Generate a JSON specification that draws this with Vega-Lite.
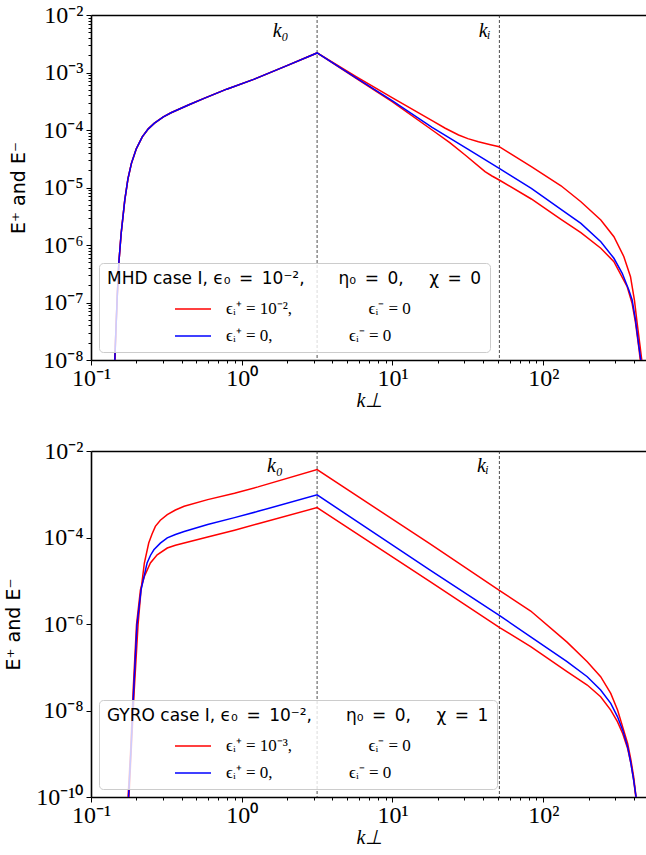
{
  "$schema": "https://vega.github.io/schema/vega-lite/v6.json",
  "background": "white",
  "padding": {"left": 4, "top": 3, "right": 0, "bottom": 0},
  "columns": 1,
  "spacing": 29,
  "datasets": {
    "rules": [{"k": 3.162}, {"k": 51.2}],
    "labTop": [{"k": 1.81, "E": 0.0053, "t": "k₀"}, {"k": 40.9, "E": 0.0053, "t": "kᵢ"}],
    "labBot": [{"k": 1.66, "E": 0.0044, "t": "k₀"}, {"k": 39.8, "E": 0.0044, "t": "kᵢ"}],
    "top": [
      {"c":"r","p":"+","k":0.1439,"E":1e-8},{"c":"r","p":"+","k":0.1462,"E":3.162e-8},{"c":"r","p":"+","k":0.1493,"E":1.259e-7},{"c":"r","p":"+","k":0.1531,"E":5.012e-7},{"c":"r","p":"+","k":0.1585,"E":1.585e-6},{"c":"r","p":"+","k":0.1675,"E":6.026e-6},{"c":"r","p":"+","k":0.1758,"E":1.413e-5},{"c":"r","p":"+","k":0.1854,"E":2.63e-5},{"c":"r","p":"+","k":0.1995,"E":4.677e-5},{"c":"r","p":"+","k":0.2188,"E":7.586e-5},{"c":"r","p":"+","k":0.2399,"E":1.047e-4},{"c":"r","p":"+","k":0.2636,"E":1.318e-4},{"c":"r","p":"+","k":0.302,"E":1.698e-4},{"c":"r","p":"+","k":0.3396,"E":1.995e-4},{"c":"r","p":"+","k":0.4467,"E":2.754e-4},{"c":"r","p":"+","k":0.5623,"E":3.548e-4},{"c":"r","p":"+","k":0.7943,"E":5.129e-4},{"c":"r","p":"+","k":1.2,"E":7.586e-4},{"c":"r","p":"+","k":1.995,"E":1.318e-3},{"c":"r","p":"+","k":3.162,"E":2.188e-3},
      {"c":"r","p":"+","k":5.741,"E":8.511e-4},{"c":"r","p":"+","k":10,"E":3.631e-4},{"c":"r","p":"+","k":18.32,"E":1.452e-4},{"c":"r","p":"+","k":22.39,"E":1.072e-4},{"c":"r","p":"+","k":27.45,"E":8.185e-5},{"c":"r","p":"+","k":31.62,"E":7.079e-5},{"c":"r","p":"+","k":37.15,"E":6.266e-5},{"c":"r","p":"+","k":44.67,"E":5.559e-5},{"c":"r","p":"+","k":51.05,"E":5.129e-5},{"c":"r","p":"+","k":83.37,"E":2.301e-5},{"c":"r","p":"+","k":131.2,"E":1.072e-5},{"c":"r","p":"+","k":177.8,"E":5.662e-6},{"c":"r","p":"+","k":241.0,"E":2.723e-6},{"c":"r","p":"+","k":294.4,"E":1.393e-6},{"c":"r","p":"+","k":342.8,"E":6.266e-7},{"c":"r","p":"+","k":379.3,"E":2.812e-7},{"c":"r","p":"+","k":402.7,"E":1.104e-7},{"c":"r","p":"+","k":419.8,"E":4.365e-8},{"c":"r","p":"+","k":438.5,"E":1.778e-8},{"c":"r","p":"+","k":451.9,"E":9.333e-9},
      {"c":"r","p":"-","k":0.1439,"E":1e-8},{"c":"r","p":"-","k":0.1462,"E":3.162e-8},{"c":"r","p":"-","k":0.1493,"E":1.259e-7},{"c":"r","p":"-","k":0.1531,"E":5.012e-7},{"c":"r","p":"-","k":0.1585,"E":1.585e-6},{"c":"r","p":"-","k":0.1675,"E":6.026e-6},{"c":"r","p":"-","k":0.1758,"E":1.413e-5},{"c":"r","p":"-","k":0.1854,"E":2.63e-5},{"c":"r","p":"-","k":0.1995,"E":4.677e-5},{"c":"r","p":"-","k":0.2188,"E":7.586e-5},{"c":"r","p":"-","k":0.2399,"E":1.047e-4},{"c":"r","p":"-","k":0.2636,"E":1.318e-4},{"c":"r","p":"-","k":0.302,"E":1.698e-4},{"c":"r","p":"-","k":0.3396,"E":1.995e-4},{"c":"r","p":"-","k":0.4467,"E":2.754e-4},{"c":"r","p":"-","k":0.5623,"E":3.548e-4},{"c":"r","p":"-","k":0.7943,"E":5.129e-4},{"c":"r","p":"-","k":1.2,"E":7.586e-4},{"c":"r","p":"-","k":1.995,"E":1.318e-3},{"c":"r","p":"-","k":3.162,"E":2.188e-3},
      {"c":"r","p":"-","k":5.741,"E":7.943e-4},{"c":"r","p":"-","k":10,"E":3.09e-4},{"c":"r","p":"-","k":18.32,"E":1.0e-4},{"c":"r","p":"-","k":23.99,"E":6.026e-5},{"c":"r","p":"-","k":30.34,"E":3.673e-5},{"c":"r","p":"-","k":41.11,"E":1.884e-5},{"c":"r","p":"-","k":45.71,"E":1.585e-5},{"c":"r","p":"-","k":51.05,"E":1.349e-5},{"c":"r","p":"-","k":83.37,"E":6.31e-6},{"c":"r","p":"-","k":131.2,"E":2.799e-6},{"c":"r","p":"-","k":177.8,"E":1.637e-6},{"c":"r","p":"-","k":241.0,"E":8.77e-7},{"c":"r","p":"-","k":294.4,"E":5.129e-7},{"c":"r","p":"-","k":360.6,"E":1.884e-7},{"c":"r","p":"-","k":389.0,"E":9.55e-8},{"c":"r","p":"-","k":409.3,"E":4.467e-8},{"c":"r","p":"-","k":430.5,"E":1.66e-8},{"c":"r","p":"-","k":441.6,"E":9.333e-9},
      {"c":"b","p":"+","k":0.1439,"E":1e-8},{"c":"b","p":"+","k":0.1462,"E":3.162e-8},{"c":"b","p":"+","k":0.1493,"E":1.259e-7},{"c":"b","p":"+","k":0.1531,"E":5.012e-7},{"c":"b","p":"+","k":0.1585,"E":1.585e-6},{"c":"b","p":"+","k":0.1675,"E":6.026e-6},{"c":"b","p":"+","k":0.1758,"E":1.413e-5},{"c":"b","p":"+","k":0.1854,"E":2.63e-5},{"c":"b","p":"+","k":0.1995,"E":4.677e-5},{"c":"b","p":"+","k":0.2188,"E":7.586e-5},{"c":"b","p":"+","k":0.2399,"E":1.047e-4},{"c":"b","p":"+","k":0.2636,"E":1.318e-4},{"c":"b","p":"+","k":0.302,"E":1.698e-4},{"c":"b","p":"+","k":0.3396,"E":1.995e-4},{"c":"b","p":"+","k":0.4467,"E":2.754e-4},{"c":"b","p":"+","k":0.5623,"E":3.548e-4},{"c":"b","p":"+","k":0.7943,"E":5.129e-4},{"c":"b","p":"+","k":1.2,"E":7.586e-4},{"c":"b","p":"+","k":1.995,"E":1.318e-3},{"c":"b","p":"+","k":3.162,"E":2.188e-3},
      {"c":"b","p":"+","k":5.741,"E":8.091e-4},{"c":"b","p":"+","k":10,"E":3.214e-4},{"c":"b","p":"+","k":18.32,"E":1.114e-4},{"c":"b","p":"+","k":31.62,"E":4.645e-5},{"c":"b","p":"+","k":51.05,"E":2.153e-5},{"c":"b","p":"+","k":83.37,"E":9.683e-6},{"c":"b","p":"+","k":131.2,"E":4.178e-6},{"c":"b","p":"+","k":177.8,"E":2.382e-6},{"c":"b","p":"+","k":241.0,"E":1.14e-6},{"c":"b","p":"+","k":294.4,"E":5.875e-7},{"c":"b","p":"+","k":334.2,"E":3.221e-7},{"c":"b","p":"+","k":369.8,"E":1.648e-7},{"c":"b","p":"+","k":389.0,"E":1.104e-7},{"c":"b","p":"+","k":409.3,"E":5.012e-8},{"c":"b","p":"+","k":430.5,"E":1.778e-8},{"c":"b","p":"+","k":445.7,"E":9.333e-9}
    ],
    "bot": [
      {"c":"r","p":"+","k":0.1786,"E":1e-10},{"c":"r","p":"+","k":0.1849,"E":1.202e-9},{"c":"r","p":"+","k":0.1936,"E":2.972e-8},{"c":"r","p":"+","k":0.2051,"E":9.55e-7},{"c":"r","p":"+","k":0.2148,"E":6.166e-6},{"c":"r","p":"+","k":0.2259,"E":2.57e-5},{"c":"r","p":"+","k":0.2415,"E":7.464e-5},{"c":"r","p":"+","k":0.2541,"E":1.202e-4},{"c":"r","p":"+","k":0.2673,"E":1.807e-4},{"c":"r","p":"+","k":0.2884,"E":2.512e-4},{"c":"r","p":"+","k":0.3206,"E":3.373e-4},{"c":"r","p":"+","k":0.3631,"E":4.315e-4},{"c":"r","p":"+","k":0.415,"E":5.26e-4},{"c":"r","p":"+","k":0.5943,"E":7.516e-4},{"c":"r","p":"+","k":0.8954,"E":1.059e-3},{"c":"r","p":"+","k":1.282,"E":1.479e-3},{"c":"r","p":"+","k":3.162,"E":3.724e-3},{"c":"r","p":"+","k":17.66,"E":7.178e-5},{"c":"r","p":"+","k":51.4,"E":5.943e-6},{"c":"r","p":"+","k":82.6,"E":1.995e-6},{"c":"r","p":"+","k":143.9,"E":3.802e-7},{"c":"r","p":"+","k":195.9,"E":1.346e-7},{"c":"r","p":"+","k":240.4,"E":6.039e-8},{"c":"r","p":"+","k":280.5,"E":2.489e-8},{"c":"r","p":"+","k":311.2,"E":1.023e-8},{"c":"r","p":"+","k":336.5,"E":4.188e-9},{"c":"r","p":"+","k":363.1,"E":1.73e-9},{"c":"r","p":"+","k":381.9,"E":7.096e-10},{"c":"r","p":"+","k":398.1,"E":2.911e-10},{"c":"r","p":"+","k":413.0,"E":1e-10},
      {"c":"r","p":"-","k":0.1762,"E":1e-10},{"c":"r","p":"-","k":0.1832,"E":1.202e-9},{"c":"r","p":"-","k":0.1905,"E":2.972e-8},{"c":"r","p":"-","k":0.2004,"E":9.55e-7},{"c":"r","p":"-","k":0.2128,"E":6.166e-6},{"c":"r","p":"-","k":0.2259,"E":1.259e-5},{"c":"r","p":"-","k":0.2477,"E":2.57e-5},{"c":"r","p":"-","k":0.2748,"E":3.981e-5},{"c":"r","p":"-","k":0.3206,"E":5.715e-5},{"c":"r","p":"-","k":0.3631,"E":6.607e-5},{"c":"r","p":"-","k":0.415,"E":7.464e-5},{"c":"r","p":"-","k":0.5943,"E":1.023e-4},{"c":"r","p":"-","k":0.8954,"E":1.479e-4},{"c":"r","p":"-","k":1.282,"E":2.089e-4},{"c":"r","p":"-","k":3.162,"E":4.909e-4},{"c":"r","p":"-","k":17.66,"E":9.616e-6},{"c":"r","p":"-","k":51.4,"E":8.26e-7},{"c":"r","p":"-","k":82.6,"E":2.992e-7},{"c":"r","p":"-","k":143.9,"E":7.889e-8},{"c":"r","p":"-","k":195.9,"E":3.882e-8},{"c":"r","p":"-","k":240.4,"E":2.08e-8},{"c":"r","p":"-","k":280.5,"E":1.023e-8},{"c":"r","p":"-","k":311.2,"E":5.47e-9},{"c":"r","p":"-","k":336.5,"E":2.951e-9},{"c":"r","p":"-","k":363.1,"E":1.318e-9},{"c":"r","p":"-","k":381.9,"E":5.943e-10},{"c":"r","p":"-","k":398.1,"E":2.455e-10},{"c":"r","p":"-","k":411.1,"E":1e-10},
      {"c":"b","p":"+","k":0.1774,"E":1e-10},{"c":"b","p":"+","k":0.1841,"E":1.202e-9},{"c":"b","p":"+","k":0.1919,"E":2.972e-8},{"c":"b","p":"+","k":0.2018,"E":9.55e-7},{"c":"b","p":"+","k":0.2148,"E":6.166e-6},{"c":"b","p":"+","k":0.2355,"E":2.57e-5},{"c":"b","p":"+","k":0.2483,"E":3.89e-5},{"c":"b","p":"+","k":0.2612,"E":5.212e-5},{"c":"b","p":"+","k":0.2884,"E":7.413e-5},{"c":"b","p":"+","k":0.3206,"E":9.772e-5},{"c":"b","p":"+","k":0.3631,"E":1.175e-4},{"c":"b","p":"+","k":0.415,"E":1.38e-4},{"c":"b","p":"+","k":0.5943,"E":1.995e-4},{"c":"b","p":"+","k":0.8954,"E":2.884e-4},{"c":"b","p":"+","k":1.282,"E":4.027e-4},{"c":"b","p":"+","k":3.162,"E":9.661e-4},{"c":"b","p":"+","k":17.66,"E":1.795e-5},{"c":"b","p":"+","k":51.4,"E":1.567e-6},{"c":"b","p":"+","k":82.6,"E":5.012e-7},{"c":"b","p":"+","k":143.9,"E":1.346e-7},{"c":"b","p":"+","k":195.9,"E":6.039e-8},{"c":"b","p":"+","k":240.4,"E":2.972e-8},{"c":"b","p":"+","k":280.5,"E":1.459e-8},{"c":"b","p":"+","k":311.2,"E":7.145e-9},{"c":"b","p":"+","k":336.5,"E":3.516e-9},{"c":"b","p":"+","k":363.1,"E":1.442e-9},{"c":"b","p":"+","k":381.9,"E":5.943e-10},{"c":"b","p":"+","k":398.1,"E":2.455e-10},{"c":"b","p":"+","k":413.0,"E":1e-10}
    ]
  },
  "concat": [
    {
      "width": 556,
      "height": 345,
      "layer": [
        {
          "data": {"name": "rules"},
          "mark": {"type": "rule", "strokeDash": [3, 2], "strokeWidth": 0.8, "color": "#222222"},
          "encoding": {
            "x": {"field": "k", "type": "quantitative", "scale": {"type": "log", "domain": [0.1, 488], "nice": false},
                  "axis": {"orient": "bottom", "values": [0.2,0.3,0.4,0.5,0.6,0.7,0.8,0.9,2,3,4,5,6,7,8,9,20,30,40,50,60,70,80,90,200,300,400], "labels": false, "domain": false, "tickSize": 3, "title": null}}
          }
        },
        {
          "data": {"name": "labTop"},
          "mark": {"type": "text", "font": "Liberation Serif", "fontStyle": "italic", "fontSize": 20, "color": "black"},
          "encoding": {
            "x": {"field": "k", "type": "quantitative", "scale": {"type": "log", "domain": [0.1, 488], "nice": false},
                  "axis": {"orient": "top", "ticks": false, "labels": false, "domain": true, "title": null}},
            "y": {"field": "E", "type": "quantitative", "scale": {"type": "log", "domain": [1e-8, 1e-2], "nice": false},
                  "axis": {"orient": "left", "values": [2e-8,3e-8,4e-8,5e-8,6e-8,7e-8,8e-8,9e-8,2e-7,3e-7,4e-7,5e-7,6e-7,7e-7,8e-7,9e-7,2e-6,3e-6,4e-6,5e-6,6e-6,7e-6,8e-6,9e-6,2e-5,3e-5,4e-5,5e-5,6e-5,7e-5,8e-5,9e-5,2e-4,3e-4,4e-4,5e-4,6e-4,7e-4,8e-4,9e-4,2e-3,3e-3,4e-3,5e-3,6e-3,7e-3,8e-3,9e-3], "labels": false, "domain": false, "tickSize": 3, "title": null}},
            "text": {"field": "t"}
          }
        },
        {
          "data": {"name": "top"},
          "mark": {"type": "line", "strokeWidth": 1.5, "clip": true},
          "encoding": {
            "x": {"field": "k", "type": "quantitative", "scale": {"type": "log", "domain": [0.1, 488], "nice": false},
                  "axis": {"orient": "bottom", "values": [0.1, 1, 10, 100], "title": "k⊥"}},
            "y": {"field": "E", "type": "quantitative", "scale": {"type": "log", "domain": [1e-8, 1e-2], "nice": false},
                  "axis": {"orient": "left", "values": [1e-8,1e-7,1e-6,1e-5,1e-4,1e-3,1e-2], "title": "E⁺ and E⁻", "titlePadding": 14}},
            "color": {"field": "c", "type": "nominal", "scale": {"domain": ["r", "b"], "range": ["#ff0000", "#0000ff"]},
                      "legend": {"title": "MHD case I, ϵ₀\u2002=\u200210⁻²,\u2003\u2003η₀\u2002=\u20020,\u2003\u2002χ\u2002=\u20020",
                                 "labelExpr": "datum.value == 'r' ? 'ϵᵢ⁺ = 10⁻²,\u2003\u2003\u2003\u2003\u2002ϵᵢ⁻ = 0' : 'ϵᵢ⁺ = 0,\u2003\u2003\u2003\u2003\u2002ϵᵢ⁻ = 0'"}},
            "detail": {"field": "p"}
          }
        }
      ],
      "resolve": {"axis": {"x": "independent", "y": "independent"}}
    },
    {
      "width": 556,
      "height": 346,
      "layer": [
        {
          "data": {"name": "rules"},
          "mark": {"type": "rule", "strokeDash": [3, 2], "strokeWidth": 0.8, "color": "#222222"},
          "encoding": {
            "x": {"field": "k", "type": "quantitative", "scale": {"type": "log", "domain": [0.1, 488], "nice": false},
                  "axis": {"orient": "bottom", "values": [0.2,0.3,0.4,0.5,0.6,0.7,0.8,0.9,2,3,4,5,6,7,8,9,20,30,40,50,60,70,80,90,200,300,400], "labels": false, "domain": false, "tickSize": 3, "title": null}}
          }
        },
        {
          "data": {"name": "labBot"},
          "mark": {"type": "text", "font": "Liberation Serif", "fontStyle": "italic", "fontSize": 20, "color": "black"},
          "encoding": {
            "x": {"field": "k", "type": "quantitative", "scale": {"type": "log", "domain": [0.1, 488], "nice": false},
                  "axis": {"orient": "top", "ticks": false, "labels": false, "domain": true, "title": null}},
            "y": {"field": "E", "type": "quantitative", "scale": {"type": "log", "domain": [1e-10, 1e-2], "nice": false}, "axis": null},
            "text": {"field": "t"}
          }
        },
        {
          "data": {"name": "bot"},
          "mark": {"type": "line", "strokeWidth": 1.5, "clip": true},
          "encoding": {
            "x": {"field": "k", "type": "quantitative", "scale": {"type": "log", "domain": [0.1, 488], "nice": false},
                  "axis": {"orient": "bottom", "values": [0.1, 1, 10, 100], "title": "k⊥"}},
            "y": {"field": "E", "type": "quantitative", "scale": {"type": "log", "domain": [1e-10, 1e-2], "nice": false},
                  "axis": {"orient": "left", "values": [1e-10,1e-8,1e-6,1e-4,1e-2], "title": "E⁺ and E⁻", "titlePadding": 12}},
            "color": {"field": "c", "type": "nominal", "scale": {"domain": ["r", "b"], "range": ["#ff0000", "#0000ff"]},
                      "legend": {"title": "GYRO case I, ϵ₀\u2002=\u200210⁻²,\u2003\u2003η₀\u2002=\u20020,\u2003\u2002χ\u2002=\u20021",
                                 "labelExpr": "datum.value == 'r' ? 'ϵᵢ⁺ = 10⁻³,\u2003\u2003\u2003\u2003\u2002ϵᵢ⁻ = 0' : 'ϵᵢ⁺ = 0,\u2003\u2003\u2003\u2003\u2002ϵᵢ⁻ = 0'"}},
            "detail": {"field": "p"}
          }
        }
      ],
      "resolve": {"axis": {"x": "independent", "y": "independent"}}
    }
  ],
  "resolve": {"scale": {"x": "independent", "y": "independent", "color": "independent"}, "legend": {"color": "independent"}},
  "config": {
    "view": {"stroke": null},
    "axis": {
      "grid": false,
      "labelFont": "Liberation Serif", "labelFontSize": 24, "labelColor": "black",
      "labelExpr": "'10' + replace(replace(replace(replace(replace(replace(replace(replace(replace(replace(replace('' + round(log(datum.value)/LN10), '-', '⁻'), '0', '⁰'), '1', '¹'), '2', '²'), '3', '³'), '4', '⁴'), '5', '⁵'), '6', '⁶'), '7', '⁷'), '8', '⁸'), '9', '⁹')",
      "labelFlush": false, "labelOverlap": false, "labelPadding": 3,
      "tickColor": "black", "tickWidth": 1, "tickSize": 5,
      "domainColor": "black", "domainWidth": 1.6,
      "titleFont": "DejaVu Sans", "titleFontSize": 19, "titleFontWeight": "normal", "titleColor": "black", "titlePadding": 6
    },
    "axisX": {"titleFont": "Liberation Serif", "titleFontStyle": "italic", "titleFontSize": 20, "titlePadding": 0, "labelPadding": 1},
    "legend": {
      "orient": "bottom-left", "offset": 8, "padding": 8,
      "fillColor": "rgba(255,255,255,0.8)", "strokeColor": "#cccccc", "cornerRadius": 4,
      "titleFont": "DejaVu Sans", "titleFontSize": 17, "titleFontWeight": "normal", "titleColor": "black", "titleLimit": 600, "titlePadding": 2,
      "labelFont": "Liberation Serif", "labelFontSize": 17, "labelColor": "black", "labelLimit": 500,
      "symbolType": "stroke", "symbolSize": 1296, "symbolStrokeWidth": 1.6, "symbolOffset": 67, "labelOffset": 14, "rowPadding": 0
    }
  }
}
